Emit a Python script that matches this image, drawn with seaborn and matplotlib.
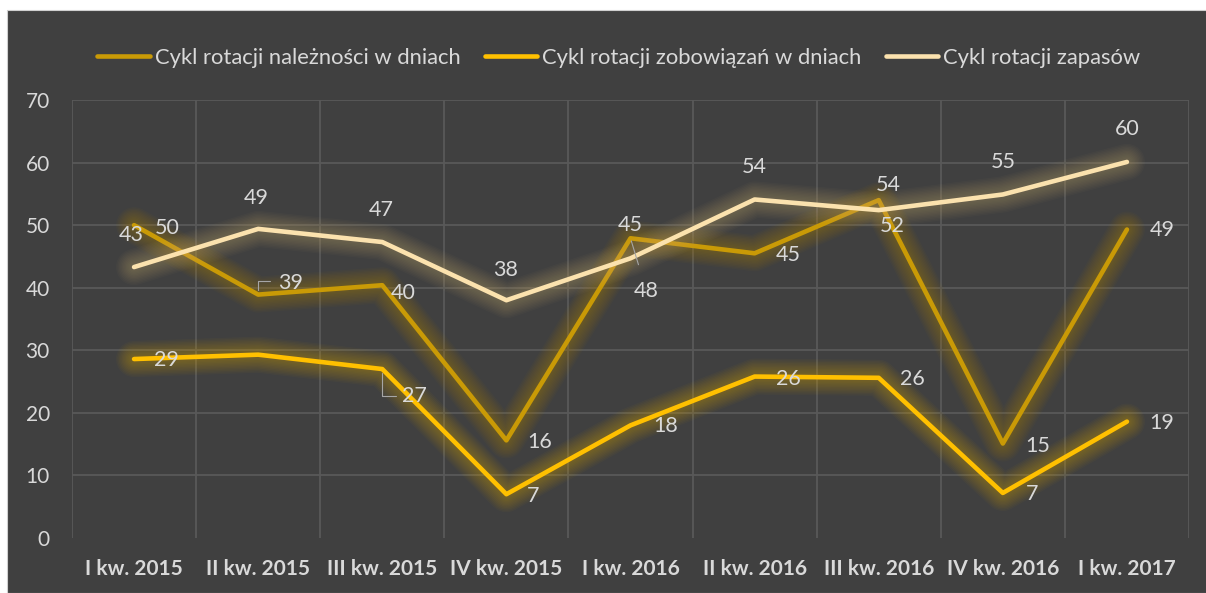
import numpy as np
import pandas as pd
import matplotlib
matplotlib.use('Agg')
import matplotlib.pyplot as plt
import matplotlib.patheffects as pe
from matplotlib.lines import Line2D
from matplotlib.patches import Rectangle
import seaborn as sns

# Data
quarters = ['I kw. 2015', 'II kw. 2015', 'III kw. 2015', 'IV kw. 2015', 'I kw. 2016',
            'II kw. 2016', 'III kw. 2016', 'IV kw. 2016', 'I kw. 2017']
naleznosci = [50.0, 38.9, 40.4, 15.6, 47.9, 45.5, 54.0, 15.1, 49.3]
zobowiazania = [28.6, 29.3, 27.0, 7.0, 18.0, 25.8, 25.6, 7.2, 18.6]
zapasy = [43.3, 49.4, 47.3, 38.0, 44.7, 54.1, 52.4, 54.9, 60.1]

naleznosci_labels = ['50', '39', '40', '16', '48', '45', '54', '15', '49']
zobowiazania_labels = ['29', '', '27', '7', '18', '26', '26', '7', '19']
zapasy_labels = ['43', '49', '47', '38', '45', '54', '52', '55', '60']

series_names = ['Cykl rotacji należności w dniach',
                'Cykl rotacji zobowiązań w dniach',
                'Cykl rotacji zapasów']

# Long table for seaborn
df = pd.DataFrame({
    'kwartal': quarters * 3,
    'x': list(range(len(quarters))) * 3,
    'wartosc': naleznosci + zobowiazania + zapasy,
    'seria': [series_names[0]] * 9 + [series_names[1]] * 9 + [series_names[2]] * 9,
})

BG = '#404040'
GRID = '#595959'
TEXT = '#d9d9d9'
colors = ['#C99A06', '#FFC000', '#FBE2AE']
glows = ['#BF9000', '#E6B000', '#C9AE72']

sns.set_theme(style='dark')
plt.rcParams['font.family'] = ['Lato', 'DejaVu Sans']

fig = plt.figure(figsize=(12.06, 5.93), dpi=100, facecolor='white')
fig.patches.append(Rectangle((7 / 1206, 0), 1, 583 / 593, transform=fig.transFigure,
                             facecolor=BG, edgecolor='#d0d0d0', lw=0.8, zorder=-10))
ax = fig.add_axes([72 / 1206, 1 - 538 / 593, (1189 - 72) / 1206, (538 - 100) / 593])
ax.set_facecolor(BG)

sns.lineplot(data=df, x='x', y='wartosc', hue='seria', hue_order=series_names,
             palette=colors, linewidth=3.3, sort=False, legend=False, ax=ax, zorder=3)

# soft glow: many thin translucent strokes
for line, g in zip(ax.lines, glows):
    line.set_solid_joinstyle('round')
    effects = [pe.Stroke(linewidth=w, foreground=g, alpha=0.035, joinstyle='round',
                         capstyle='round')
               for w in range(26, 5, -2)]
    line.set_path_effects(effects + [pe.Normal()])

# Axes, grid
ax.set_xlim(-0.5, len(quarters) - 0.5)
ax.set_ylim(0, 70)
ax.set_yticks(range(0, 71, 10))
ax.set_xticks(range(len(quarters)))
ax.set_xticklabels(quarters, fontweight='bold')
ax.set_xticks(np.arange(-0.5, len(quarters), 1), minor=True)
ax.set_xlabel('')
ax.set_ylabel('')
ax.grid(False)
ax.grid(True, axis='y', color=GRID, lw=1.3)
ax.grid(True, axis='x', which='minor', color=GRID, lw=1.3)
ax.yaxis.get_gridlines()[0].set_visible(False)
ax.tick_params(axis='both', which='both', length=0, colors=TEXT, labelsize=15)
ax.tick_params(axis='y', pad=16)
ax.tick_params(axis='x', pad=15)
for s in ax.spines.values():
    s.set_visible(False)

# Data labels (offsets in pixels)
off_nal = [(33, -3), (32, 12), (21, -8), (33, -2), (16, -53), (34, -2), (10, 15), (35, -2), (35, 0)]
off_zob = [(32, -1), (0, 0), (32, -27), (27, -2), (35, -1), (34, -2), (34, -1), (29, -1), (35, -1)]
off_zap = [(-3, 32), (-2, 31), (-1, 32), (-1, 30), (0, 33), (0, 32), (13, -16), (0, 32), (0, 33)]

leaders = {
    (0, 1): dict(arrowstyle='-', color='#a6a6a6', lw=0.8, shrinkA=3, shrinkB=3,
                 relpos=(0, 0.6), connectionstyle='angle,angleA=0,angleB=90,rad=0'),
    (0, 4): dict(arrowstyle='-', color='#a6a6a6', lw=0.8, shrinkA=10, shrinkB=2),
    (1, 2): dict(arrowstyle='-', color='#a6a6a6', lw=0.8, shrinkA=2, shrinkB=3,
                 relpos=(0, 0.5), connectionstyle='angle,angleA=0,angleB=90,rad=0'),
}

for si, (vals, labs, offs) in enumerate([(naleznosci, naleznosci_labels, off_nal),
                                         (zobowiazania, zobowiazania_labels, off_zob),
                                         (zapasy, zapasy_labels, off_zap)]):
    for i, (v, lab, off) in enumerate(zip(vals, labs, offs)):
        if not lab:
            continue
        ax.annotate(lab, xy=(i, v), xytext=off, textcoords='offset pixels',
                    ha='center', va='center', color=TEXT, fontsize=15.5, zorder=5,
                    arrowprops=leaders.get((si, i)))

# Legend
handles = [Line2D([0], [0], color=c, lw=3.3) for c in colors]
fig.legend(handles, series_names, loc='center', bbox_to_anchor=(0.513, 0.902), ncol=3,
           frameon=False, fontsize=15.8, labelcolor=TEXT, handlelength=2.4,
           handletextpad=0.22, columnspacing=1.1)

fig.savefig('out.png', dpi=100, facecolor=fig.get_facecolor())
